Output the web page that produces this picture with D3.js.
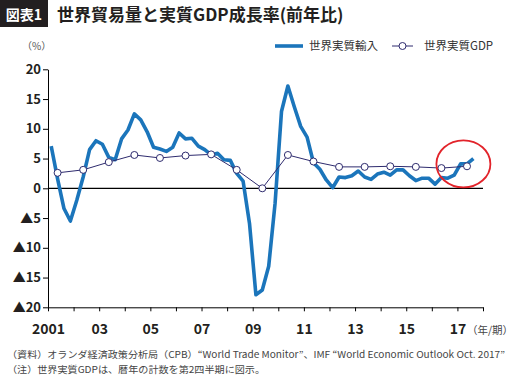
<!DOCTYPE html>
<html>
<head>
<meta charset="utf-8">
<script src="https://cdn.jsdelivr.net/npm/d3@7"></script>
<style>
  body { margin: 0; background: #fff; }
  text { font-family: "Noto Sans CJK JP", "Liberation Sans", sans-serif; }
</style>
</head>
<body>
<div id="chart"></div>
<script>
// Chart data
const years = d3.range(2001, 2018); // 2001 .. 2017 (categories)
const quarters = ["Q1", "Q2", "Q3", "Q4"];

// World real imports, y/y %, quarterly from 2001Q1 to 2017Q3
const tradeValues = [
    7.1, 1.6, -3.4, -5.5,
    -2.0, 1.9, 6.5, 8.0,
    7.4, 5.2, 4.8, 8.3,
    9.8, 12.5, 11.5, 9.5,
    6.9, 6.6, 6.2, 6.9,
    9.3, 8.3, 8.4, 7.1,
    6.5, 5.6, 5.9, 4.8,
    4.7, 2.5, 1.2, -5.9,
    -17.9, -17.1, -13.1, -2.5,
    12.9, 17.2, 13.7, 10.4,
    8.6, 4.3, 3.2, 1.4,
    0.1, 1.9, 1.8, 2.1,
    2.9, 1.9, 1.5, 2.4,
    2.7, 2.2, 3.1, 3.1,
    2.1, 1.3, 1.7, 1.7,
    0.7, 1.8, 1.7, 2.2,
    4.1, 4.1, 5.0
];

// World real GDP, calendar year, plotted at Q2
const gdpValues = [2.6, 3.1, 4.4, 5.6, 5.1, 5.5, 5.7, 3.1, 0.0, 5.6, 4.5, 3.6, 3.6, 3.7, 3.6, 3.4, 3.7];

const yTicks = [20, 15, 10, 5, 0, -5, -10, -15, -20];
const xLabelYears = [2001, 2003, 2005, 2007, 2009, 2011, 2013, 2015, 2017];

const width = 520, height = 384;
const margin = { left: 48, right: 37, top: 69, bottom: 77 };

const svg = d3.select("#chart").append("svg")
    .attr("width", width)
    .attr("height", height);

// quarter labels -> decimal time (centre of quarter)
const tradeData = tradeValues.map((v, i) => ({
    label: years[Math.floor(i / 4)] + quarters[i % 4],
    t: years[Math.floor(i / 4)] + (i % 4 + 0.5) / 4,
    value: v
}));
const gdpData = gdpValues.map((v, i) => ({ t: years[i] + 1.5 / 4, value: v }));

const x = d3.scaleLinear()
    .domain([2001, 2018])
    .range([margin.left, width - margin.right]);

const y = d3.scaleLinear()
    .domain([-20, 20])
    .range([height - margin.bottom + 0.3, margin.top + 0.3]);

// Title
svg.append("rect")
    .attr("x", 0).attr("y", 0)
    .attr("width", 48).attr("height", 27)
    .attr("fill", "#231f20");
svg.append("text")
    .attr("x", 24).attr("y", 19.5)
    .attr("text-anchor", "middle")
    .attr("font-size", 14).attr("font-weight", "bold")
    .attr("fill", "#fff")
    .text("図表1");
svg.append("text")
    .attr("x", 57).attr("y", 20.5)
    .attr("font-size", 17).attr("font-weight", "bold")
    .attr("fill", "#231f20")
    .text("世界貿易量と実質GDP成長率(前年比)");

// Unit label
svg.append("text")
    .attr("x", 22).attr("y", 50)
    .attr("font-size", 10).attr("fill", "#555")
    .text("（%）");

// Y axis
const yAxis = svg.append("g")
    .attr("transform", `translate(${margin.left},0)`)
    .call(d3.axisLeft(y).tickValues(yTicks).tickSize(5).tickSizeOuter(0)
        .tickFormat(d => d < 0 ? "▲" + Math.abs(d) : d));
yAxis.select(".domain").attr("stroke", "#000");
yAxis.selectAll(".tick line").attr("stroke", "#000");
yAxis.selectAll(".tick text")
    .attr("x", -7)
    .attr("font-family", "'Liberation Sans', Arial, sans-serif")
    .attr("font-size", 13).attr("font-weight", "bold")
    .attr("fill", "#231f20");

// X axis
const xAxis = svg.append("g")
    .attr("transform", `translate(0,${y(-20)})`)
    .call(d3.axisBottom(x).tickValues(d3.range(2001, 2019)).tickSize(4).tickSizeOuter(0)
        .tickFormat(d => xLabelYears.includes(d) ? (d === 2001 ? "2001" : String(d).slice(2)) : ""));
xAxis.select(".domain").attr("stroke", "#000");
xAxis.selectAll(".tick line").attr("stroke", "#000");
xAxis.selectAll(".tick text")
    .attr("y", 17)
    .attr("font-family", "'Liberation Sans', Arial, sans-serif")
    .attr("font-size", 14).attr("font-weight", "bold")
    .attr("fill", "#231f20");

svg.append("text")
    .attr("x", 467).attr("y", 334)
    .attr("font-size", 10.5).attr("fill", "#444")
    .text("（年/期）");

// Zero line
svg.append("line")
    .attr("x1", x(2001)).attr("x2", x(2018))
    .attr("y1", y(0)).attr("y2", y(0))
    .attr("stroke", "#000").attr("stroke-width", 1.2);

// Trade line
const line = d3.line().x(d => x(d.t)).y(d => y(d.value));
svg.append("path")
    .datum(tradeData)
    .attr("fill", "none")
    .attr("stroke", "#1b75bb")
    .attr("stroke-width", 3.6)
    .attr("stroke-linejoin", "round")
    .attr("d", line);

// GDP line + markers
svg.append("path")
    .datum(gdpData)
    .attr("fill", "none")
    .attr("stroke", "#2e2b6e")
    .attr("stroke-width", 1)
    .attr("d", line);
svg.selectAll(".gdp-dot")
    .data(gdpData)
    .join("circle")
    .attr("class", "gdp-dot")
    .attr("cx", d => x(d.t)).attr("cy", d => y(d.value))
    .attr("r", 3.5)
    .attr("fill", "#fff")
    .attr("stroke", "#2e2b6e")
    .attr("stroke-width", 1);

// Red highlight ellipse around the latest quarters
const last = tradeData[tradeData.length - 1];
svg.append("ellipse")
    .attr("cx", x(last.t) - 10).attr("cy", y(4.1))
    .attr("rx", 27).attr("ry", 23.5)
    .attr("fill", "none")
    .attr("stroke", "#e2232a")
    .attr("stroke-width", 1.8);

// Legend
const legend = svg.append("g").attr("font-size", 11.5).attr("fill", "#333");
legend.append("line")
    .attr("x1", 275).attr("x2", 303).attr("y1", 46).attr("y2", 46)
    .attr("stroke", "#1b75bb").attr("stroke-width", 3.6);
legend.append("text").attr("x", 309).attr("y", 50).text("世界実質輸入");
legend.append("line")
    .attr("x1", 392).attr("x2", 413).attr("y1", 46).attr("y2", 46)
    .attr("stroke", "#2e2b6e").attr("stroke-width", 1);
legend.append("circle")
    .attr("cx", 402.5).attr("cy", 46).attr("r", 3.5)
    .attr("fill", "#fff").attr("stroke", "#2e2b6e");
legend.append("text").attr("x", 424).attr("y", 50).text("世界実質GDP");

// Footnotes
svg.append("text")
    .attr("x", 7).attr("y", 358)
    .attr("font-size", 9.5).attr("fill", "#444")
    .attr("textLength", 498).attr("lengthAdjust", "spacingAndGlyphs")
    .text("（資料）オランダ経済政策分析局（CPB）“World Trade Monitor”、IMF “World Economic Outlook Oct. 2017”");
svg.append("text")
    .attr("x", 7).attr("y", 373)
    .attr("font-size", 9.5).attr("fill", "#444")
    .attr("textLength", 258).attr("lengthAdjust", "spacingAndGlyphs")
    .text("（注）世界実質GDPは、暦年の計数を第2四半期に図示。");
</script>
</body>
</html>
